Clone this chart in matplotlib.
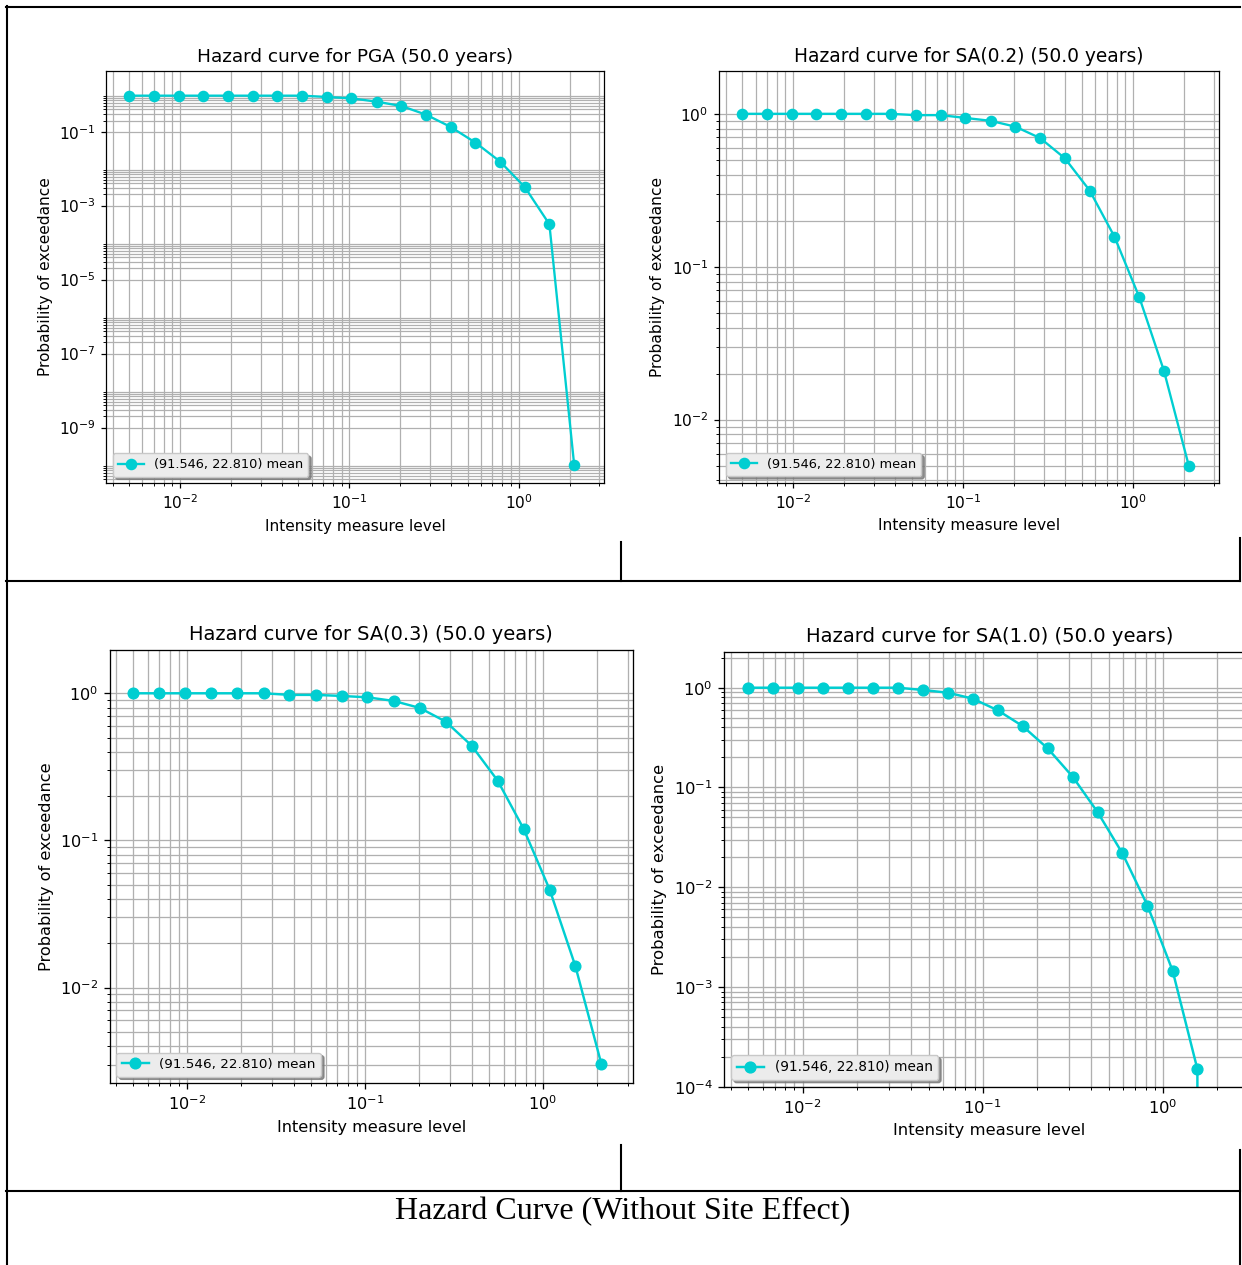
import numpy as np
import matplotlib
matplotlib.use("Agg")
import matplotlib.pyplot as plt
from matplotlib.lines import Line2D
from matplotlib.ticker import FixedLocator, NullFormatter

# ---------------- data ----------------
imls_19 = [0.005, 0.007, 0.0098, 0.0137, 0.0192, 0.0269, 0.0376, 0.0527, 0.0738,
           0.103, 0.145, 0.203, 0.284, 0.397, 0.556, 0.778, 1.09, 1.52, 2.13]
imls_20 = [0.005, 0.00688, 0.00946, 0.0130, 0.0179, 0.0246, 0.0338, 0.0465, 0.0640,
           0.0880, 0.121, 0.166, 0.229, 0.315, 0.433, 0.595, 0.819, 1.13, 1.55, 2.13]

poe_pga = [0.94, 0.94, 0.94, 0.94, 0.94, 0.94, 0.94, 0.94, 0.865, 0.796,
           0.647, 0.494, 0.288, 0.134, 0.0505, 0.0155, 0.00313, 0.000313, 9.6e-11]
poe_sa02 = [1.0, 1.0, 1.0, 1.0, 1.0, 1.0, 1.0, 0.98, 0.98, 0.94,
            0.90, 0.824, 0.694, 0.512, 0.315, 0.157, 0.063, 0.0209, 0.00499]
poe_sa03 = [1.0, 1.0, 1.0, 1.0, 1.0, 1.0, 0.975, 0.975, 0.959, 0.939,
            0.887, 0.795, 0.642, 0.441, 0.255, 0.120, 0.0463, 0.0140, 0.00301]
poe_sa10 = [1.0, 1.0, 1.0, 1.0, 1.0, 1.0, 1.0, 0.948, 0.891, 0.776,
            0.593, 0.413, 0.246, 0.128, 0.0566, 0.0218, 0.00655, 0.00145, 0.000150, 0.0]

titles = ["Hazard curve for PGA (50.0 years)",
          "Hazard curve for SA(0.2) (50.0 years)",
          "Hazard curve for SA(0.3) (50.0 years)",
          "Hazard curve for SA(1.0) (50.0 years)"]
legend_label = "(91.546, 22.810) mean"
xlabel = "Intensity measure level"
ylabel = "Probability of exceedance"
caption = "Hazard Curve (Without Site Effect)"

pga_major_ticks = [1e-1, 1e-3, 1e-5, 1e-7, 1e-9]
pga_minor_decades = [1e-11, 1e-9, 1e-7, 1e-5, 1e-3, 1e-1]
minor_subs = [2, 3, 4, 5, 6, 7, 8, 9]

# ---------------- layout ----------------
W, H = 1242, 1265
fig = plt.figure(figsize=(W / 100, H / 100), dpi=100)
fig.patch.set_facecolor("white")


def px_axes(x0, y0, x1, y1):
    return fig.add_axes([x0 / W, 1 - y1 / H, (x1 - x0) / W, (y1 - y0) / H])


panels = [
    dict(box=(106.4, 71, 604.1, 483), s=1.11, x=imls_19, y=poe_pga,
         ylim=(10 ** -10.50, 10 ** 0.64)),
    dict(box=(719.3, 71, 1218.8, 482.6), s=1.115, x=imls_19, y=poe_sa02,
         ylim=(10 ** -2.412, 10 ** 0.28)),
    dict(box=(109.6, 650, 632.9, 1083.3), s=1.164, x=imls_19, y=poe_sa03,
         ylim=(10 ** -2.650, 10 ** 0.294)),
    dict(box=(724.3, 651.7, 1254.1, 1086.7), s=1.18, x=imls_20, y=poe_sa10,
         ylim=(1e-4, 10 ** 0.361)),
]

color = "#00CED1"
for i, p in enumerate(panels):
    s = p["s"]
    ax = px_axes(*p["box"])
    ax.set_xscale("log")
    ax.set_yscale("log")
    ax.plot(p["x"], p["y"], "-o", color=color, lw=1.5 * s, ms=6.6 * s,
            label=legend_label, clip_on=True)
    ax.set_xlim(10 ** -2.435, 10 ** 0.505)
    ax.set_ylim(*p["ylim"])
    if i == 0:
        ax.yaxis.set_major_locator(FixedLocator(pga_major_ticks))
        minors = [d * k for d in pga_minor_decades for k in minor_subs]
        ax.yaxis.set_minor_locator(FixedLocator(minors))
        ax.yaxis.set_minor_formatter(NullFormatter())
    ax.grid(True, which="both", color="#b0b0b0", lw=0.8 * s)
    ax.set_title(titles[i], fontsize=12 * s, pad=6 * s)
    ax.set_xlabel(xlabel, fontsize=10 * s, labelpad=4 * s)
    ax.set_ylabel(ylabel, fontsize=10 * s, labelpad=4 * s)
    ax.tick_params(which="major", labelsize=10 * s, length=3.5 * s, width=0.8 * s, pad=3.5 * s)
    ax.tick_params(which="minor", length=2 * s, width=0.6 * s)
    for sp in ax.spines.values():
        sp.set_linewidth(0.8 * s)
    leg = ax.legend(loc="lower left", shadow={"color": "#7a7a7a", "alpha": 0.8},
                    fontsize=8.33 * s, fancybox=True, framealpha=1.0,
                    facecolor="#ececec", edgecolor="#c8c8c8")

# ---------------- table lines ----------------
segs = [
    ((6.5, 6), (6.5, 1265)),
    ((6, 6.5), (1240, 6.5)),
    ((6, 581), (1240, 581)),
    ((6, 1190.5), (1240, 1190.5)),
    ((621, 542), (621, 581)),
    ((1240, 538), (1240, 581)),
    ((621, 1145), (621, 1190.5)),
    ((1240, 1150), (1240, 1265)),
]
for (xa, ya), (xb, yb) in segs:
    fig.add_artist(Line2D([xa / W, xb / W], [1 - ya / H, 1 - yb / H],
                          transform=fig.transFigure, color="black", lw=1.5))

fig.text(623 / W, 1 - 1212 / H, caption, family="Liberation Serif",
         fontsize=23, ha="center", va="center")

fig.savefig("out.png", dpi=100)
